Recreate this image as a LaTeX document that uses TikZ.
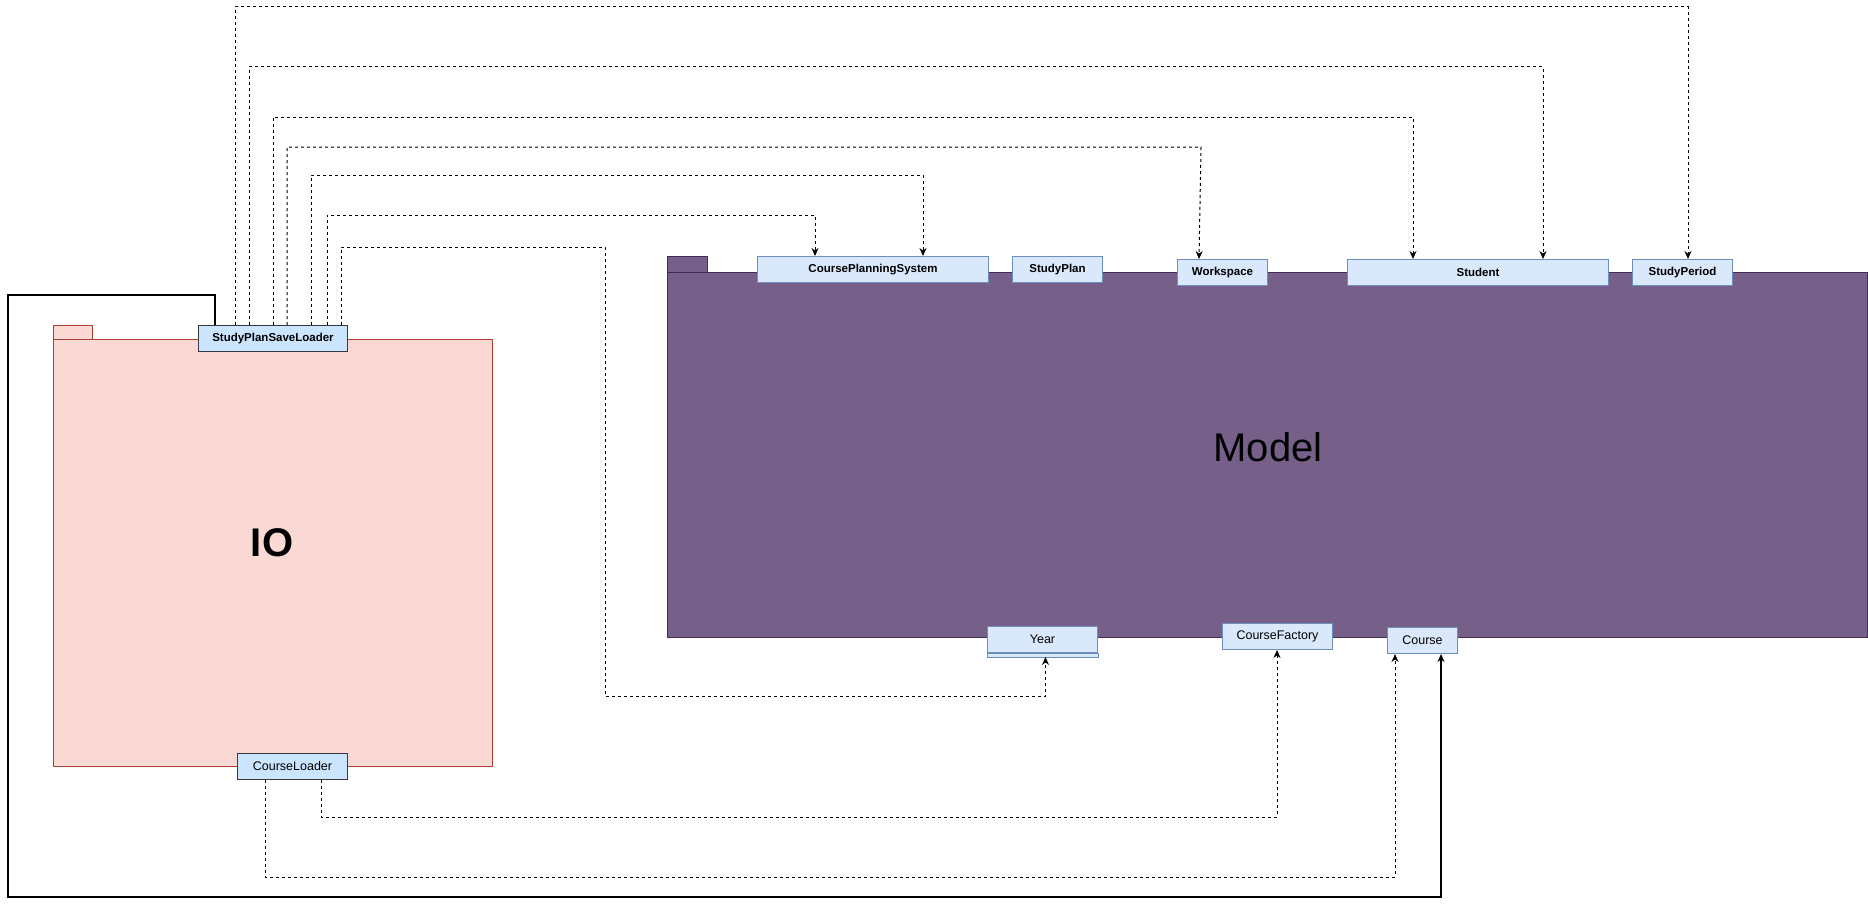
\documentclass[tikz,border=0pt]{standalone}
\usepackage{fontspec}
\setmainfont{Liberation Sans}
\usetikzlibrary{arrows.meta,calc}

\definecolor{ioFill}{HTML}{FAD9D5}
\definecolor{ioLine}{HTML}{AE4132}
\definecolor{modelFill}{HTML}{76608A}
\definecolor{modelLine}{HTML}{432D57}
\definecolor{clsFill}{HTML}{DAE8FC}
\definecolor{clsLine}{HTML}{6C8EBF}
\definecolor{ldrFill}{HTML}{CCE5FF}
\definecolor{ldrLine}{HTML}{36393D}

\tikzset{
  pkgio/.style={draw=ioLine, fill=ioFill, line width=1pt},
  pkgmodel/.style={draw=modelLine, fill=modelFill, line width=1pt},
  boxbase/.style={rectangle, inner sep=0pt, line width=1pt, anchor=north west},
  clsbold/.style={boxbase, draw=clsLine, fill=clsFill, font=\fontsize{11.5}{13}\selectfont\bfseries},
  clsplain/.style={boxbase, draw=clsLine, fill=clsFill, font=\fontsize{12.5}{14}\selectfont},
  ldrbold/.style={boxbase, draw=ldrLine, fill=ldrFill, font=\fontsize{11.5}{13}\selectfont\bfseries},
  ldrplain/.style={boxbase, draw=ldrLine, fill=ldrFill, font=\fontsize{12.5}{14}\selectfont},
  dep/.style={draw=black, line width=1pt, dash pattern=on 3pt off 3pt, -{Stealth[length=8pt,width=7pt]}},
  assoc/.style={draw=black, line width=1.1pt, -{Stealth[length=8pt,width=7pt]}}
}

\begin{document}
\begin{tikzpicture}[x=1pt,y=-1pt]
\useasboundingbox (0,0) rectangle (1868,907);

% IO package
\draw[pkgio] (53,325) rectangle (92,339);
\draw[pkgio] (53,339) rectangle (492,766);
\node[anchor=base, font=\fontsize{40}{44}\selectfont\bfseries] (iolabel) at (272,556) {IO};

% Model package
\draw[pkgmodel] (667,256) rectangle (707,272);
\draw[pkgmodel] (667,272) rectangle (1867,637);
\node[anchor=base, font=\fontsize{40}{44}\selectfont] (modellabel) at (1268,461) {Model};

% Loader classes
\node[ldrbold, minimum width=149pt, minimum height=26pt] (spsl) at (198,325) {StudyPlanSaveLoader};
\node[ldrplain, minimum width=110pt, minimum height=26pt] (cload) at (237,753) {CourseLoader};

% Model classes on the top edge
\node[clsbold, minimum width=231pt, minimum height=26pt] (cps) at (757,256) {CoursePlanningSystem};
\node[clsbold, minimum width=90pt, minimum height=26pt] (plan) at (1012,256) {StudyPlan};
\node[clsbold, minimum width=90pt, minimum height=26pt] (work) at (1177,259) {Workspace};
\node[clsbold, minimum width=261pt, minimum height=26pt] (stud) at (1347,259) {Student};
\node[clsbold, minimum width=100pt, minimum height=26pt] (period) at (1632,259) {StudyPeriod};

% Model classes on the bottom edge
\node[clsplain, minimum width=110pt, minimum height=26pt] (year) at (987,626) {Year};
\draw[draw=clsLine, fill=clsFill, line width=1pt] (year.south west) rectangle ($(year.south east)+(0,4)$);
\coordinate (yearbot) at ($(year.south)+(0,4)$);
\node[clsplain, minimum width=110pt, minimum height=26pt] (factory) at (1222,623) {CourseFactory};
\node[clsplain, minimum width=70pt, minimum height=26pt] (course) at (1387,627) {Course};

% StudyPlanSaveLoader dependencies
\draw[dep] ($(spsl.north west)+(37,0)$) |- (1688,7) -- ($(period.north west)+(56,0)$);
\draw[dep] ($(spsl.north west)+(51,0)$) |- (1543,67) -- ($(stud.north west)+(196,0)$);
\draw[dep] ($(spsl.north west)+(75,0)$) |- (1413,117) -- ($(stud.north west)+(66,0)$);
\draw[dep] ($(spsl.north west)+(89,0)$) |- (1201,147) -- ($(work.north west)+(22,0)$);
\draw[dep] ($(spsl.north west)+(113,0)$) |- (923,175) -- ($(cps.north west)+(166,0)$);
\draw[dep] ($(spsl.north west)+(129,0)$) |- (815,215) -- ($(cps.north west)+(58,0)$);
\draw[dep] ($(spsl.north west)+(143,0)$) |- (605,247) -- (605,696) -| ($(yearbot)+(3,0)$);

% CourseLoader dependencies
\draw[dep] ($(cload.south west)+(84,0)$) |- (1277,817) -- (factory.south -| 1277,0);
\draw[dep] ($(cload.south west)+(28,0)$) |- (1395,877) -- (course.south -| 1395,0);

% StudyPlanSaveLoader to Course association
\draw[assoc] ($(spsl.north west)+(17,0)$) |- (8,295) |- (1441,897) -- (course.south -| 1441,0);
\end{tikzpicture}
\end{document}
